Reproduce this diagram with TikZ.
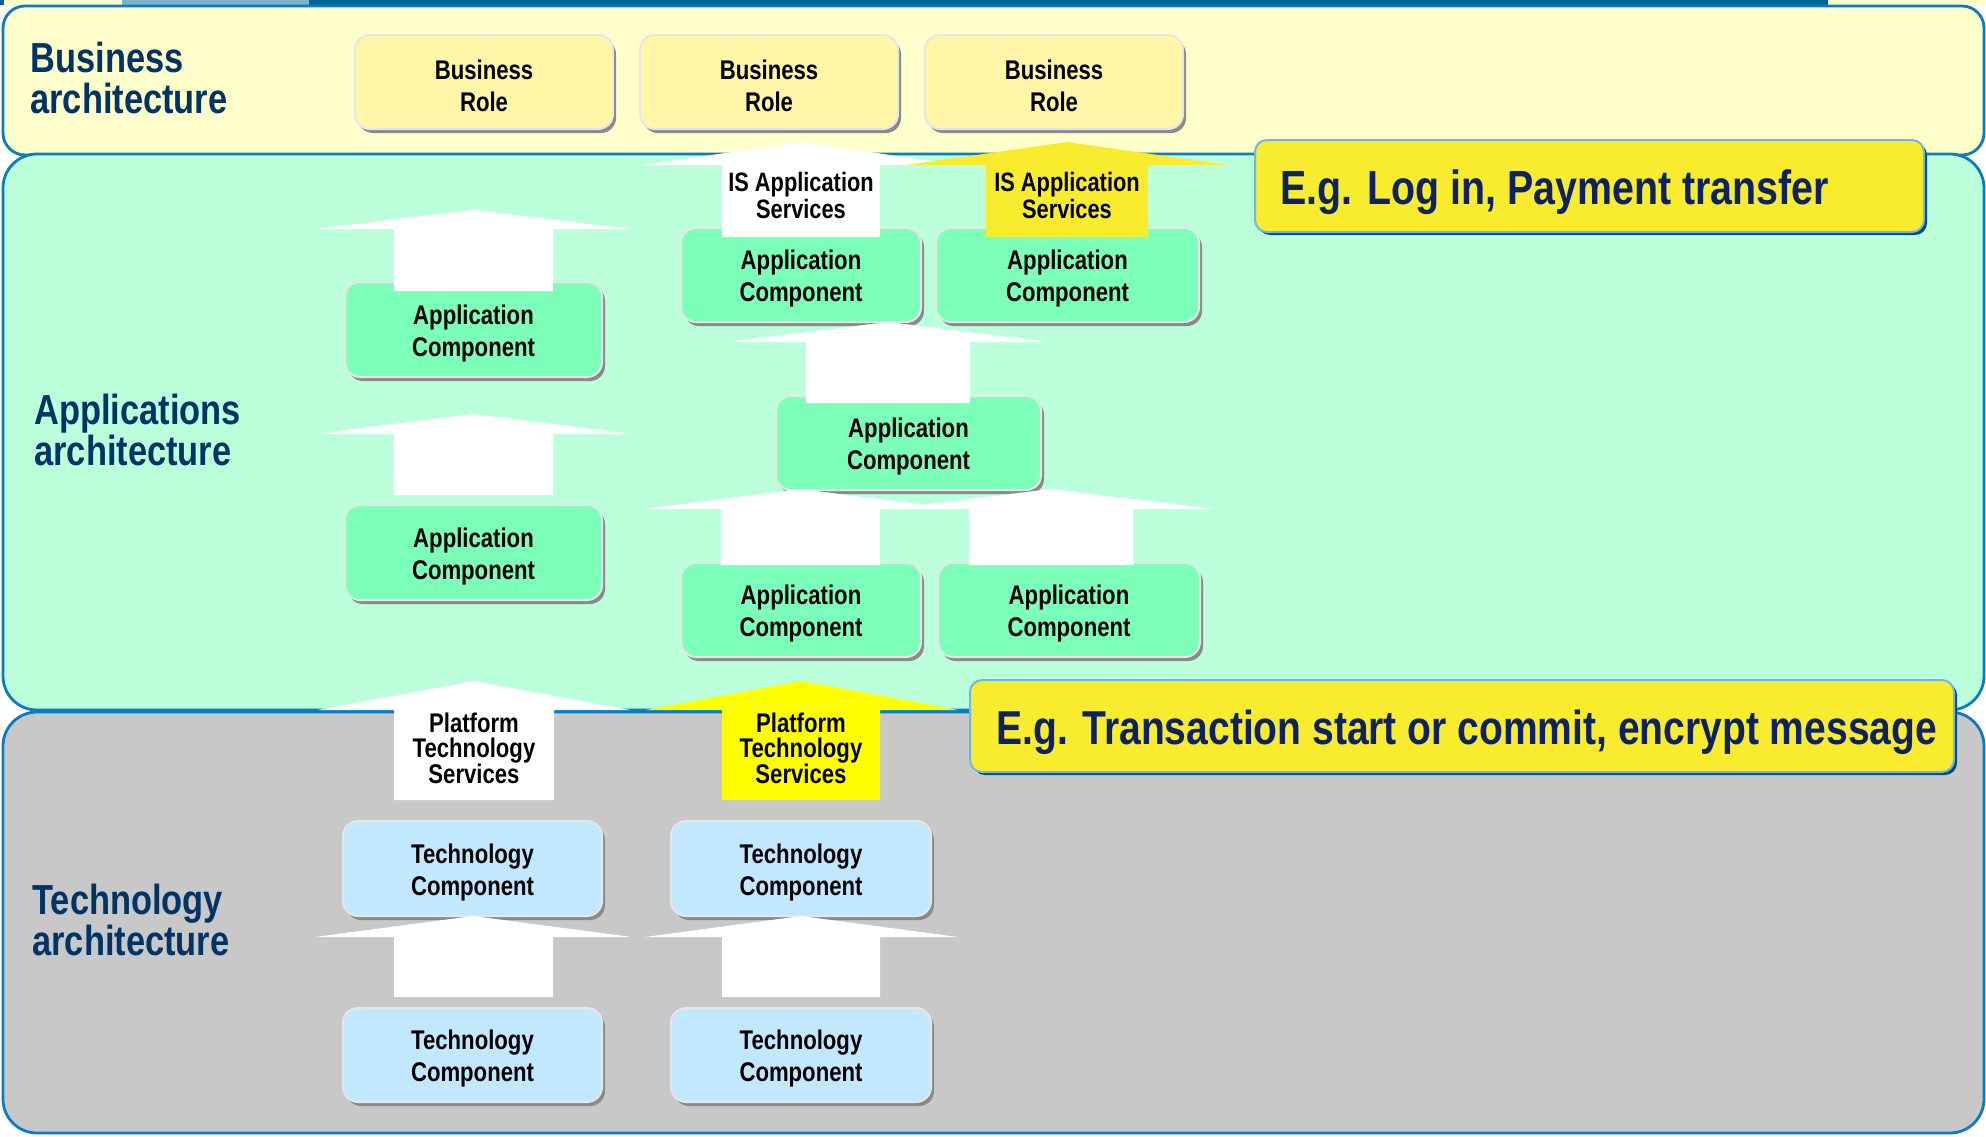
\documentclass[tikz,border=0pt]{standalone}
\usepackage{fontspec}
\newfontfamily\nar{Liberation Sans}[FakeStretch=0.82]
\usetikzlibrary{shadows}
\definecolor{panelblue}{HTML}{0A7CC4}
\definecolor{buscream}{HTML}{FFFFCC}
\definecolor{appmint}{HTML}{BBFFDB}
\definecolor{techgray}{HTML}{C8C8C8}
\definecolor{rolefill}{HTML}{FFF6A8}
\definecolor{appfill}{HTML}{7CFFB8}
\definecolor{techfill}{HTML}{C2E8FF}
\definecolor{isyellow}{HTML}{F9EB2E}
\definecolor{ptyellow}{HTML}{FFFF00}
\definecolor{navy}{HTML}{003366}
\definecolor{egnavy}{HTML}{0D2260}
\definecolor{shadowgray}{HTML}{8A8A8A}
\definecolor{hlgray}{HTML}{E6E6E6}
\definecolor{calloutborder}{HTML}{6FB7E6}
\definecolor{calloutshadow}{HTML}{0B4A7A}
\definecolor{stripdark}{HTML}{006699}
\definecolor{striplight}{HTML}{7FB3CC}
\newcommand\blockarr[9]{%
  \fill[#1] (#7,#9) -- (#7,#4) -- (#5,#4) -- (#2,#3) -- (#6,#4) -- (#8,#4) -- (#8,#9) -- cycle;}
% box: fill, name, cx, cy, width(pt), height(pt), text
\newcommand\compbox[7]{%
  \node[comp,fill=#1,minimum width=#5pt,minimum height=#6pt] (#2) at (#3,#4) {};
  \node[comptext] (#2-txt) at ([yshift=-2pt]#2.center) {#7};}
\begin{document}
\begin{tikzpicture}[x=0.5pt,y=-0.5pt,
  panel/.style={draw=panelblue,line width=1.4pt},
  layerlabel/.style={anchor=base west,align=left,text=navy,inner sep=0pt,
    font=\nar\bfseries\fontsize{21}{20.5}\selectfont},
  comp/.style={draw=hlgray,line width=1pt,rounded corners=7.5pt,inner sep=0pt,
    drop shadow={shadow xshift=1.5pt,shadow yshift=-2pt,fill=shadowgray,opacity=1}},
  comptext/.style={align=center,inner sep=0pt,font=\nar\bfseries\fontsize{13.5}{16}\selectfont},
  svc/.style={align=center,inner sep=0pt,font=\nar\bfseries\fontsize{13.3}{13.5}\selectfont},
  ptsvc/.style={align=center,inner sep=0pt,font=\nar\bfseries\fontsize{13.5}{12.8}\selectfont},
  callout/.style={draw=calloutborder,line width=1pt,fill=isyellow,rounded corners=6pt,
    drop shadow={shadow xshift=1.5pt,shadow yshift=-1.5pt,fill=calloutshadow,opacity=1}},
  egtext/.style={anchor=base west,inner sep=0pt,text=egnavy,font=\nar\bfseries\fontsize{24}{26}\selectfont}]
\useasboundingbox (0,0) rectangle (1986,1136);
\fill[white] (0,0) rectangle (1986,1136);
% top strip
\fill[buscream] (0,0) rectangle (1986,5);
\fill[stripdark] (0,0) rectangle (4,5);
\fill[striplight] (122,0) rectangle (309,5);
\fill[stripdark] (309,0) rectangle (1828,5);
% panels
\draw[panel,fill=buscream,rounded corners=11pt] (3,6) rectangle (1984,155);
\draw[panel,fill=appmint,rounded corners=17pt] (3,154) rectangle (1984,710);
\draw[panel,fill=techgray,rounded corners=17pt] (3,712) rectangle (1984,1133);
% layer labels (anchor = baseline of the last line)
\node[layerlabel] (lbus) at (30,113) {Business\\architecture};
\node[layerlabel] (lapp) at (34,465) {Applications\\architecture};
\node[layerlabel] (ltec) at (32,955) {Technology\\architecture};
% business roles
\compbox{rolefill}{b1}{484}{82}{129}{47}{Business\\Role}
\compbox{rolefill}{b2}{769}{82}{129}{47}{Business\\Role}
\compbox{rolefill}{b3}{1054}{82}{129}{47}{Business\\Role}
% application components
\compbox{appfill}{a1}{473.5}{329.5}{128.5}{47.5}{Application\\Component}
\compbox{appfill}{a2}{473.5}{552.5}{128.5}{47.5}{Application\\Component}
\compbox{appfill}{a3}{801}{275}{120}{47}{Application\\Component}
\compbox{appfill}{a4}{1067.5}{275}{131.5}{47}{Application\\Component}
\compbox{appfill}{a5}{908.5}{443}{132.5}{47}{Application\\Component}
\compbox{appfill}{a6}{801}{610}{120}{47}{Application\\Component}
\compbox{appfill}{a7}{1069}{610}{131}{47}{Application\\Component}
% technology components
\compbox{techfill}{t1}{472.5}{868.5}{129.5}{47.5}{Technology\\Component}
\compbox{techfill}{t2}{801}{868.5}{130}{47.5}{Technology\\Component}
\compbox{techfill}{t3}{472.5}{1055}{129.5}{47}{Technology\\Component}
\compbox{techfill}{t4}{801}{1055}{130}{47}{Technology\\Component}
% block arrows
\blockarr{white}{473}{210}{229}{315}{632}{394}{553}{291}
\blockarr{white}{473}{414}{434}{315}{632}{394}{553}{495}
\blockarr{white}{888}{322}{342}{727}{1049}{806}{970}{403}
\blockarr{white}{801}{142}{165}{643}{959}{722}{880}{237}
\blockarr{isyellow}{1067}{142}{165}{907}{1228}{986}{1148}{237}
\blockarr{white}{800}{489}{509}{645}{958}{721}{880}{565}
\blockarr{white}{1051}{489}{509}{888}{1214}{969}{1133}{565}
\blockarr{white}{474}{681}{710}{318}{630}{394}{554}{800}
\blockarr{ptyellow}{801}{681}{710}{646}{958}{722}{880}{800}
\blockarr{white}{473}{916}{937}{315}{632}{394}{553}{997}
\blockarr{white}{801}{916}{937}{645}{958}{722}{880}{997}
% service labels
\node[svc] (is1) at (801,195) {IS Application\\Services};
\node[svc] (is2) at (1067,195) {IS Application\\Services};
\node[ptsvc] (pt1) at (474,748) {Platform\\Technology\\Services};
\node[ptsvc] (pt2) at (801,748) {Platform\\Technology\\Services};
% callouts
\draw[callout] (1255,140) rectangle (1924,232);
\node[egtext] (eg1) at (1280,204) {E.g. Log in, Payment transfer};
\draw[callout] (970,680) rectangle (1954,772);
\node[egtext,font=\nar\bfseries\fontsize{23.8}{26}\selectfont] (eg2) at (996,744) {E.g. Transaction start or commit, encrypt message};
\end{tikzpicture}
\end{document}
